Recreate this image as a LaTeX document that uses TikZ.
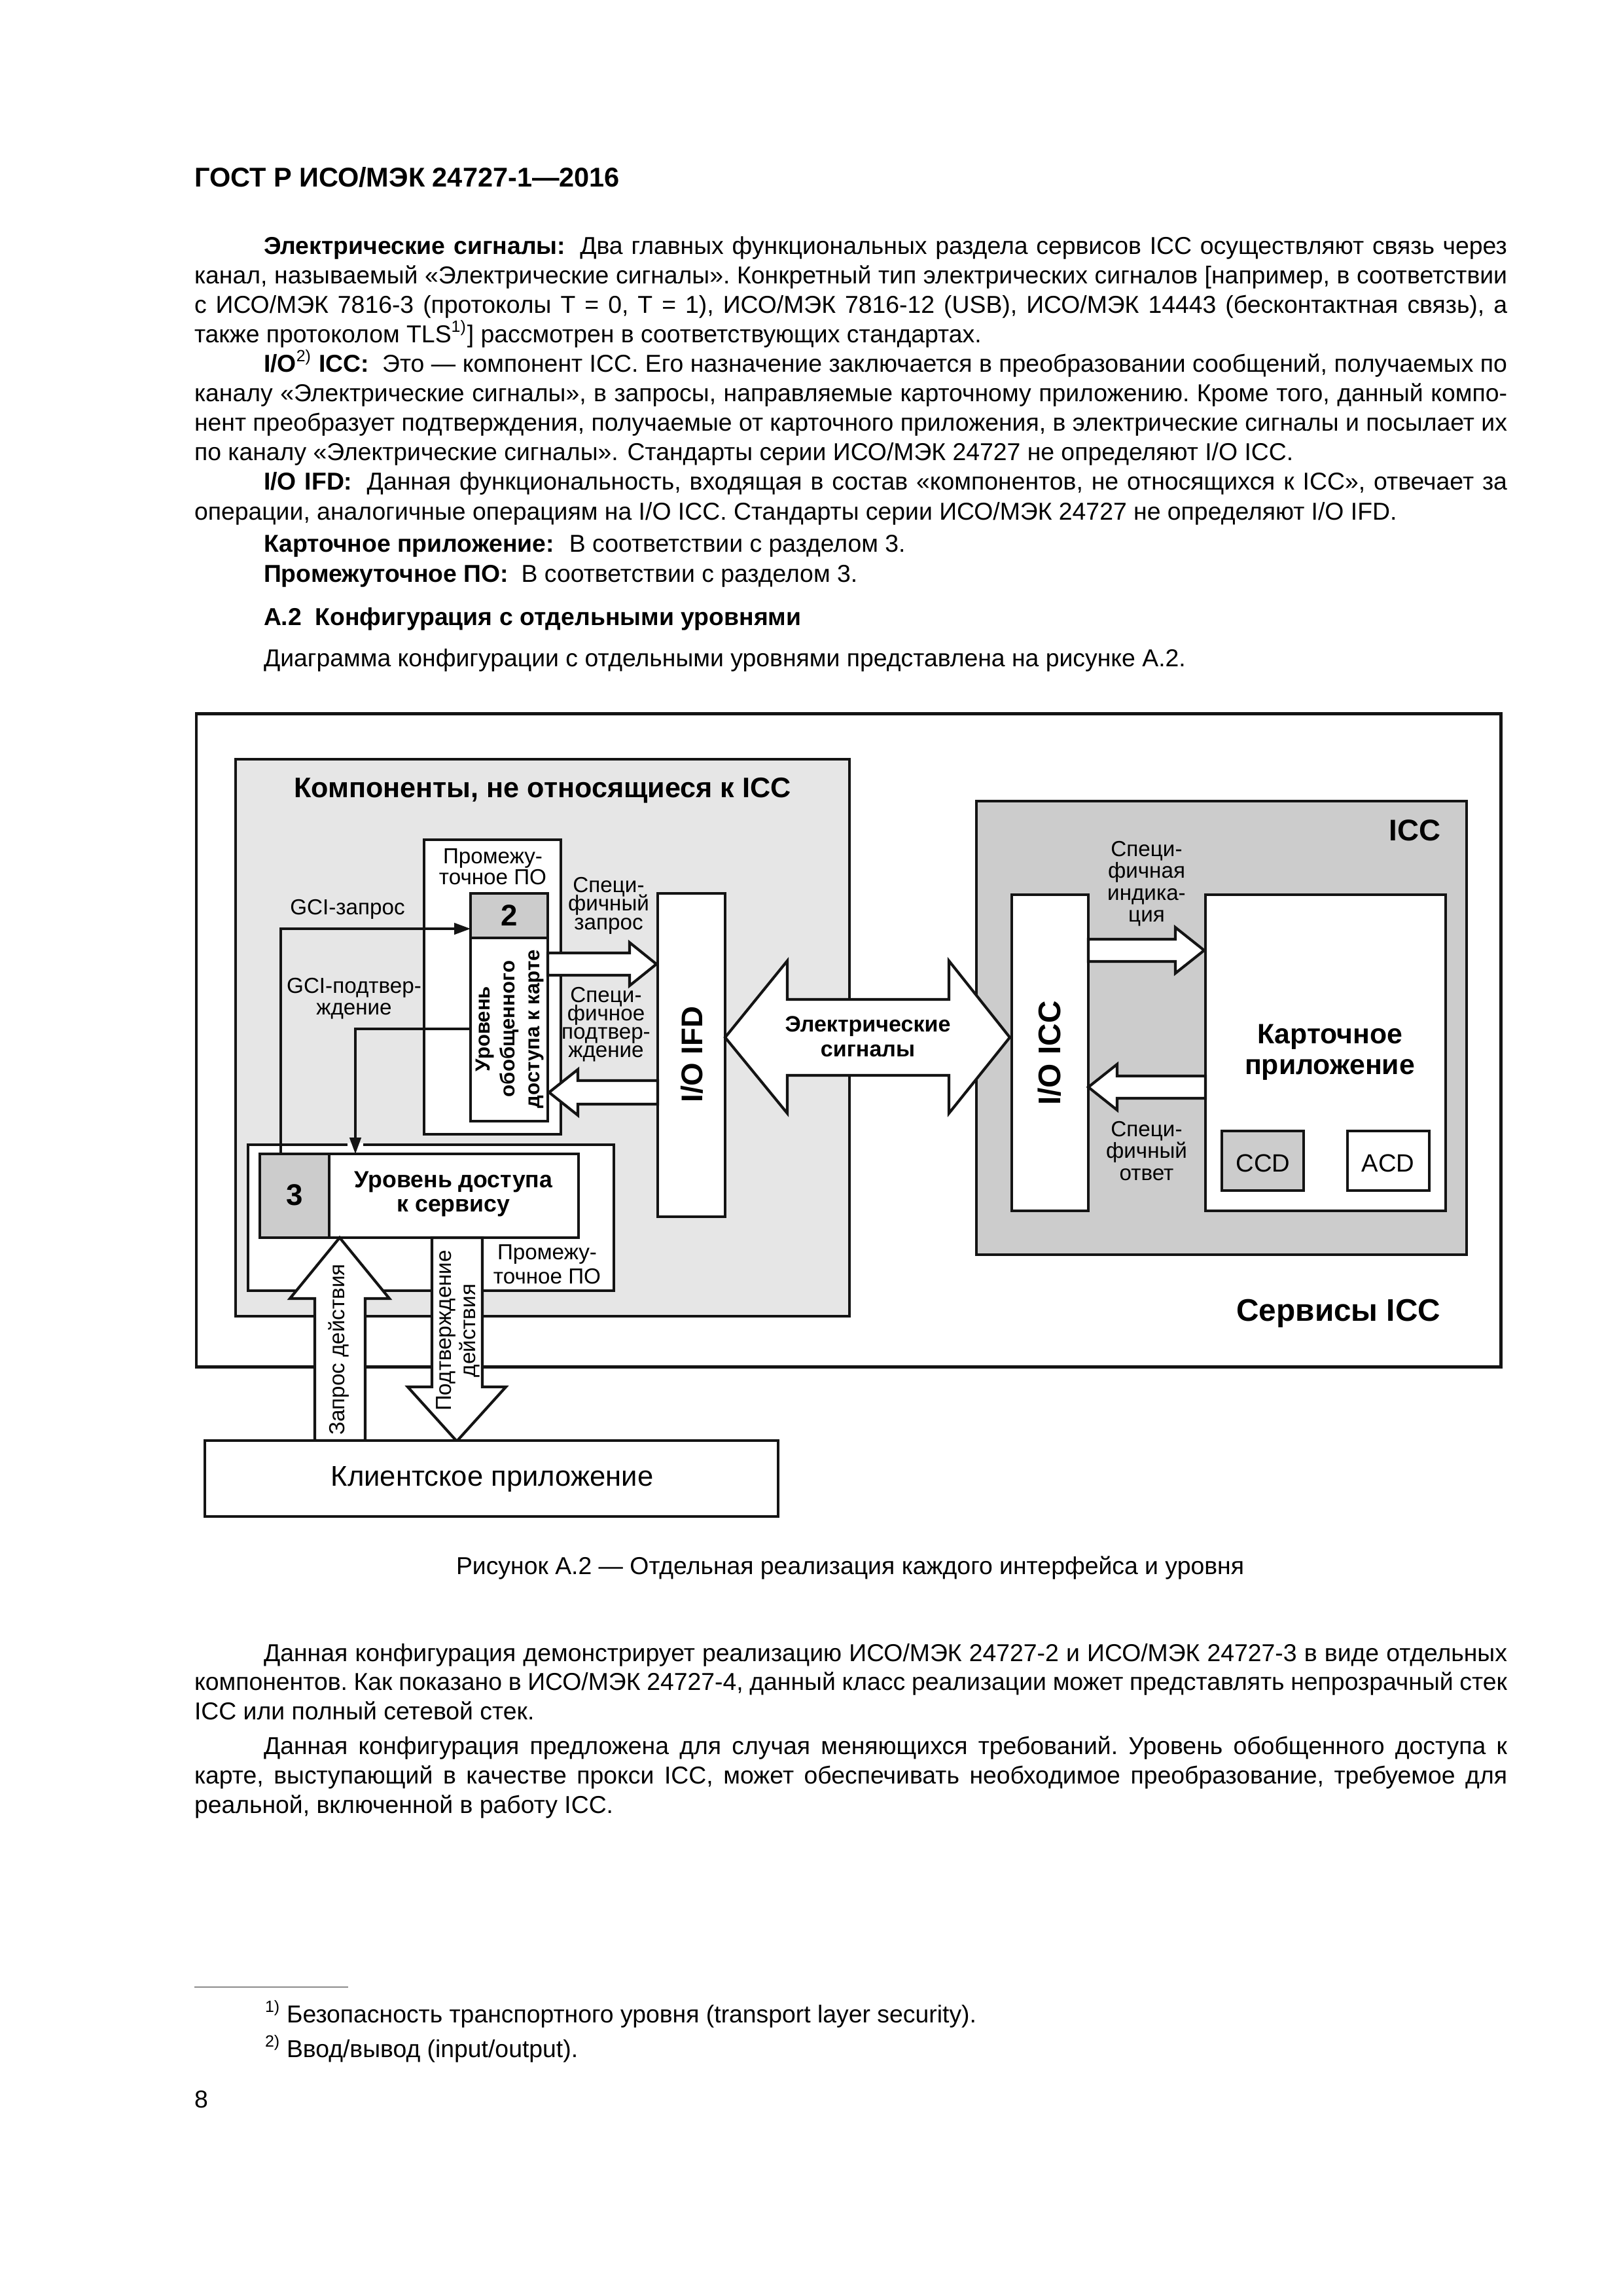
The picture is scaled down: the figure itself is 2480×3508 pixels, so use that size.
\documentclass[tikz,border=0pt]{standalone}
\usepackage{fontspec}
\setmainfont{Liberation Sans}
\usetikzlibrary{arrows.meta}
\newlength\pxl
\setlength\pxl{0.0846774mm}
\definecolor{lgrey}{HTML}{E6E6E6}
\definecolor{mgrey}{HTML}{CCCCCC}
\definecolor{ink}{HTML}{141414}
\definecolor{rulegrey}{HTML}{8C8C8C}
\newcommand\J[2]{\makebox[#1\pxl][s]{\frenchspacing\spaceskip=0.278em plus 1em minus 0.12em\relax #2}}
\newcommand\B[1]{\textbf{#1}}
\newcommand\bx[6]{\node[#6, inner sep=0pt, outer sep=0pt, minimum width={(#4-#2)*\pxl}, minimum height={(#5-#3)*\pxl}] (#1) at ({(#2+#4)/2},{(#3+#5)/2}) {};}
\tikzset{
 body/.style={font=\fontsize{9}{10.8}\selectfont, inner sep=0pt, outer sep=0pt, anchor=base west},
 lab/.style={font=\fontsize{8}{8}\selectfont, inner sep=0pt, anchor=base},
 blab/.style={font=\fontsize{#1}{#1}\selectfont\bfseries, inner sep=0pt},
 boxst/.style={draw=ink, line width=1pt, fill=white},
 fat/.style={draw=ink, line width=1pt, fill=white, line join=miter},
 conn/.style={draw=ink, line width=0.75pt, -{Triangle[length=6pt,width=4.2pt]}},
}
\begin{document}
\begin{tikzpicture}[x=\pxl,y=-\pxl]
\useasboundingbox[fill=white] (0,0) rectangle (2480,3508);

% ---------- header and text ----------
\node[body, font=\fontsize{10}{11}\selectfont\bfseries] (hdr) at (297,285) {ГОСТ Р ИСО/МЭК 24727-1—2016};

\node[body] (p1a) at (403,388) {\J{1900}{\B{Электрические сигналы:}\hspace{0.25em} Два главных функциональных раздела сервисов ICC осуществляют связь через}};
\node[body] (p1b) at (297,433) {\J{2006}{канал, называемый «Электрические сигналы». Конкретный тип электрических сигналов [например, в соответствии}};
\node[body] (p1c) at (297,478) {\J{2006}{с ИСО/МЭК 7816-3 (протоколы T = 0, T = 1), ИСО/МЭК 7816-12 (USB), ИСО/МЭК 14443 (бесконтактная связь), а}};
\node[body] (p1d) at (297,523) {также протоколом TLS\textsuperscript{1)}] рассмотрен в соответствующих стандартах.};

\node[body] (p2a) at (403,568) {\J{1900}{\B{I/O\textsuperscript{\mdseries 2)} ICC:}\hspace{0.25em} Это — компонент ICC. Его назначение заключается в преобразовании сообщений, получаемых по}};
\node[body] (p2b) at (297,613) {\J{2006}{каналу «Электрические сигналы», в запросы, направляемые карточному приложению. Кроме того, данный компо-}};
\node[body] (p2c) at (297,658) {\J{2006}{нент преобразует подтверждения, получаемые от карточного приложения, в электрические сигналы и посылает их}};
\node[body] (p2d) at (297,703) {по каналу «Электрические сигналы». Стандарты серии ИСО/МЭК 24727 не определяют I/O ICC.};

\node[body] (p3a) at (403,748) {\J{1900}{\B{I/O IFD:}\hspace{0.25em} Данная функциональность, входящая в состав «компонентов, не относящихся к ICC», отвечает за}};
\node[body] (p3b) at (297,794) {операции, аналогичные операциям на I/O ICC. Стандарты серии ИСО/МЭК 24727 не определяют I/O IFD.};

\node[body] (p4) at (403,843) {\B{Карточное приложение:}\hspace{0.25em} В соответствии с разделом 3.};
\node[body] (p5) at (403,889) {\B{Промежуточное ПО:}\hspace{0.25em} В соответствии с разделом 3.};
\node[body] (hA2) at (403,955) {\B{А.2\hspace{0.55em}Конфигурация с отдельными уровнями}};
\node[body] (p6) at (403,1018) {Диаграмма конфигурации с отдельными уровнями представлена на рисунке А.2.};

% ---------- diagram ----------
\bx{outer}{300}{1090}{2293}{2088}{draw=ink, line width=1.2pt, fill=white}
\bx{nonicc}{360}{1160}{1298}{2011}{draw=ink, line width=1pt, fill=lgrey}
\node[blab=10.4, anchor=base] (nonicct) at (829,1218) {Компоненты, не относящиеся к ICC};

\bx{mwa}{648}{1283}{857}{1733}{boxst}
\foreach \t [count=\i] in {Промежу-,точное ПО}{\node[lab] (mwat\i) at (753,{1319+(\i-1)*32}) {\t};}

\bx{ltwo}{719}{1365}{837}{1713}{boxst}
\bx{ltwonum}{719}{1365}{837}{1433}{draw=ink, line width=1pt, fill=mgrey}
\node[blab=11, anchor=base] (ltwonumt) at (778,1414) {2};
\node[font=\fontsize{7.5}{9.1}\selectfont\bfseries, inner sep=0pt, align=center, rotate=90] (ltwot) at (779,1572) {Уровень\\обобщенного\\доступа к карте};

\bx{ifd}{1005}{1365}{1108}{1859}{boxst}
\node[blab=11, rotate=90] (ifdt) at (1057,1611) {I/O IFD};

% specific request arrow (right)
\draw[fat] (837,1456) -- (962,1456) -- (962,1440) -- (1003,1473) -- (962,1506) -- (962,1490) -- (837,1490) -- cycle;
\foreach \t [count=\i] in {Специ-,фичный,запрос}{\node[lab] (sqt\i) at (930,{1363+(\i-1)*28.5}) {\t};}
% specific confirmation arrow (left)
\draw[fat] (1005,1651) -- (883,1651) -- (883,1634) -- (839,1669) -- (883,1704) -- (883,1687) -- (1005,1687) -- cycle;
\foreach \t [count=\i] in {Специ-,фичное,подтвер-,ждение}{\node[lab] (sct\i) at (926,{1531+(\i-1)*28.3}) {\t};}

% lower middleware and layer 3
\bx{mwb}{379}{1749}{938}{1972}{boxst}
\bx{lthree}{397}{1763}{884}{1891}{boxst}
\bx{lthreenum}{397}{1763}{503}{1891}{draw=ink, line width=1pt, fill=mgrey}
\node[blab=11, anchor=base] (lthreenumt) at (450,1841) {3};
\node[blab=8.6, anchor=base] (lthreet1) at (693,1814) {Уровень доступа};
\node[blab=8.6, anchor=base] (lthreet2) at (693,1851) {к сервису};
\foreach \t [count=\i] in {Промежу-,точное ПО}{\node[lab] (mwbt\i) at (836,{1924+(\i-1)*37}) {\t};}

% GCI connectors
\coordinate (gqs) at (429,1763);
\coordinate (gqe) at (719,1419);
\draw[conn] (gqs) |- (gqe);
\node[lab] (gqt) at (531,1397) {GCI-запрос};
\coordinate (gcs) at (719,1572);
\coordinate (gce) at (543,1763);
\draw[white, line width=1.6pt] (531,1749) -- (555,1749);
\draw[conn] (gcs) -| (gce);
\node[lab] (gct1) at (541,1517) {GCI-подтвер-};
\node[lab] (gct2) at (541,1550) {ждение};

% ICC side
\bx{icc}{1492}{1224}{2241}{1917}{draw=ink, line width=1pt, fill=mgrey}
\node[blab=11, anchor=base east] (icct) at (2202,1284) {ICC};
\bx{ioicc}{1546}{1367}{1663}{1850}{boxst}
\node[blab=11.5, rotate=90] (ioicct) at (1604,1609) {I/O ICC};
\bx{card}{1842}{1367}{2209}{1850}{boxst}
\node[blab=10.3, anchor=base] (cardt1) at (2032,1594) {Карточное};
\node[blab=10.3, anchor=base] (cardt2) at (2032,1641) {приложение};
\bx{ccd}{1867}{1728}{1992}{1819}{draw=ink, line width=1pt, fill=mgrey}
\node[font=\fontsize{9.2}{9.2}\selectfont, inner sep=0pt, anchor=base] (ccdt) at (1930,1790) {CCD};
\bx{acd}{2059}{1728}{2184}{1819}{boxst}
\node[font=\fontsize{9.2}{9.2}\selectfont, inner sep=0pt, anchor=base] (acdt) at (2121,1790) {ACD};

% indication arrow (right)
\draw[fat] (1663,1435) -- (1796,1435) -- (1796,1417) -- (1840,1452) -- (1796,1487) -- (1796,1469) -- (1663,1469) -- cycle;
\foreach \t [count=\i] in {Специ-,фичная,индика-,ция}{\node[lab] (sit\i) at (1752,{1308+(\i-1)*33.5}) {\t};}
% answer arrow (left)
\draw[fat] (1842,1644) -- (1707,1644) -- (1707,1626) -- (1663,1661) -- (1707,1696) -- (1707,1678) -- (1842,1678) -- cycle;
\foreach \t [count=\i] in {Специ-,фичный,ответ}{\node[lab] (sat\i) at (1752,{1736+(\i-1)*33.5}) {\t};}

\node[blab=11.5, anchor=base east] (svct) at (2202,2018) {Сервисы ICC};

% electrical signals double arrow
\draw[fat] (1108,1585) -- (1203,1468) -- (1203,1527) -- (1450,1527) -- (1450,1468) -- (1543,1585) -- (1450,1701) -- (1450,1643) -- (1203,1643) -- (1203,1701) -- cycle;
\node[blab=8.2, anchor=base] (elt1) at (1326,1576) {Электрические};
\node[blab=8.2, anchor=base] (elt2) at (1326,1614) {сигналы};

% action request (up) and confirmation (down)
\draw[fat] (519,1891) -- (595,1984) -- (558,1984) -- (558,2201) -- (481,2201) -- (481,1984) -- (443,1984) -- cycle;
\node[font=\fontsize{8}{8}\selectfont, inner sep=0pt, rotate=90] (reqt) at (518,2062) {Запрос действия};
\draw[fat] (660,1891) -- (737,1891) -- (737,2119) -- (773,2119) -- (698,2202) -- (623,2119) -- (660,2119) -- cycle;
\node[font=\fontsize{8}{8.9}\selectfont, inner sep=0pt, align=center, rotate=90] (conft) at (700,2033) {Подтверждение\\действия};

\bx{client}{313}{2201}{1189}{2317}{draw=ink, line width=1.1pt, fill=white}
\node[font=\fontsize{10.5}{10.5}\selectfont, inner sep=0pt, anchor=base] (clientt) at (752,2270) {Клиентское приложение};

% ---------- caption and following text ----------
\node[body, anchor=base] (cap) at (1299,2405) {Рисунок А.2 — Отдельная реализация каждого интерфейса и уровня};

\node[body] (q1a) at (403,2538) {\J{1900}{Данная конфигурация демонстрирует реализацию ИСО/МЭК 24727-2 и ИСО/МЭК 24727-3 в виде отдельных}};
\node[body] (q1b) at (297,2582) {\J{2006}{компонентов. Как показано в ИСО/МЭК 24727-4, данный класс реализации может представлять непрозрачный стек}};
\node[body] (q1c) at (297,2627) {ICC или полный сетевой стек.};
\node[body] (q2a) at (403,2680) {\J{1900}{Данная конфигурация предложена для случая меняющихся требований. Уровень обобщенного доступа к}};
\node[body] (q2b) at (297,2725) {\J{2006}{карте, выступающий в качестве прокси ICC, может обеспечивать необходимое преобразование, требуемое для}};
\node[body] (q2c) at (297,2770) {реальной, включенной в работу ICC.};

% ---------- footnotes ----------
\coordinate (fra) at (297,3036);
\coordinate (frb) at (532,3036);
\draw[rulegrey, line width=0.5pt] (fra) -- (frb);
\node[body] (fn1m) at (405,3090) {\textsuperscript{1)}};
\node[body] (fn1) at (438,3090) {Безопасность транспортного уровня (transport layer security).};
\node[body] (fn2m) at (405,3143) {\textsuperscript{2)}};
\node[body] (fn2) at (438,3143) {Ввод/вывод (input/output).};
\node[body] (pg) at (297,3220) {8};
\end{tikzpicture}
\end{document}
